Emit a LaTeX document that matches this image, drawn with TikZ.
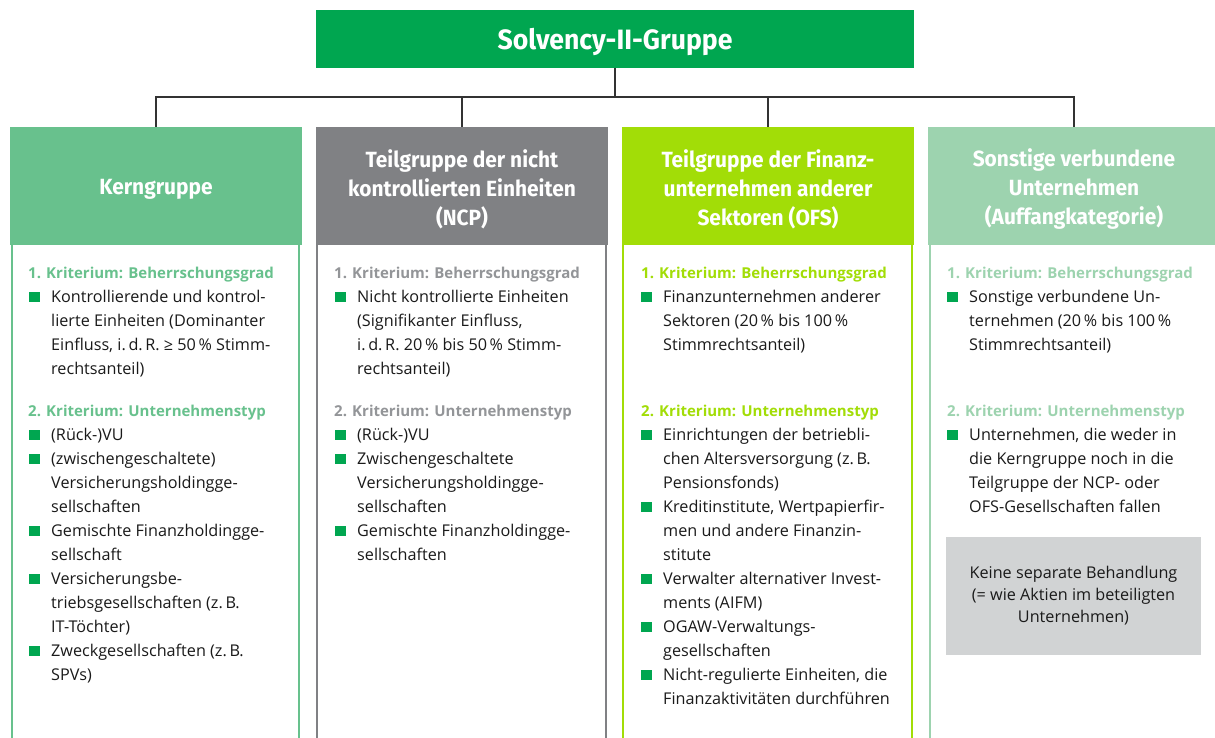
\documentclass[tikz,border=0pt]{standalone}
\usepackage{fontspec}
\setmainfont{Open Sans}
\newfontfamily\hdfont{Fira Sans}[FakeStretch=0.95]
\definecolor{titlegreen}{HTML}{00A650}
\definecolor{cA}{HTML}{68C18D}
\definecolor{cB}{HTML}{808184}
\definecolor{cBt}{HTML}{939598}
\definecolor{cC}{HTML}{A2DD07}
\definecolor{cD}{HTML}{9DD3AF}
\definecolor{boxgray}{HTML}{D1D3D4}
\definecolor{txt}{HTML}{1A1A1A}
\definecolor{conncol}{HTML}{333333}
\tikzset{
  titlebox/.style={fill=titlegreen, minimum width=598, minimum height=58, inner sep=0},
  titletxt/.style={text=white, inner sep=0, font=\hdfont\bfseries\fontsize{28}{32}\selectfont},
  headbox/.style={fill=#1, minimum width=292, minimum height=118, inner sep=0},
  headtxt/.style={text=white, inner sep=0, align=center, font=\hdfont\bfseries\fontsize{22}{29}\selectfont},
  bodybox/.style={draw=#1, line width=2pt, fill=white},
  crit/.style={text=#1, inner sep=0, anchor=base west, font=\bfseries\fontsize{15}{24}\selectfont},
  itemtxt/.style={text=txt, inner sep=0, anchor=north west, align=left, font=\fontsize{16.2}{24}\selectfont},
  bul/.style={fill=titlegreen, minimum width=11, minimum height=10, inner sep=0},
  graybox/.style={fill=boxgray, text=txt, minimum width=255, minimum height=118, inner sep=0, align=center,
    font=\fontsize{16.2}{22}\selectfont},
  conn/.style={draw=conncol, line width=1.5pt}
}
\newcommand\myitem[4]{%
  \node[bul] (#1b) at (#2+24, #3-5.25) {};
  \node[itemtxt] (#1) at (#2+41, #3-16.8) {\strut #4};
}
\begin{document}
\begin{tikzpicture}[x=1pt, y=-1pt]
\useasboundingbox (0,0) rectangle (1215,737);
\clip (0,0) rectangle (1215,737);
% bodies
\draw[bodybox=cA] (11.5,240) rectangle (299,760);
\draw[bodybox=cB] (317,240) rectangle (605.5,760);
\draw[bodybox=cC] (623,240) rectangle (912,760);
\draw[bodybox=cD] (929.5,240) rectangle (1218,760);
% title and headers
\node[titlebox] (title) at (615,38.5) {};
\node[titletxt] (titlet) at (615,41.5) {Solvency-II-Gruppe};
\node[headbox=cA] (h1) at (156,186) {};
\node[headbox=cB] (h2) at (462,186) {};
\node[headbox=cC] (h3) at (768,186) {};
\node[headbox=cD] (h4) at (1074,186) {};
\node[headtxt] (h1t) at (156,189) {Kerngruppe};
\node[headtxt] (h2t) at (462,189) {Teilgruppe der nicht\\kontrollierten Einheiten\\(NCP)};
\node[headtxt] (h3t) at (768,189) {Teilgruppe der Finanz-\\unternehmen anderer\\Sektoren (OFS)};
\node[headtxt] (h4t) at (1074,189) {Sonstige verbundene\\Unternehmen\\(Auffangkategorie)};
% connectors
\coordinate (bus) at (615,97);
\draw[conn] (title.south) -- (bus);
\draw[conn] (h1.north) -- (h1.north |- bus) -- (h4.north |- bus) -- (h4.north);
\draw[conn] (h2.north) -- (h2.north |- bus);
\draw[conn] (h3.north) -- (h3.north |- bus);
% column 1
\node[crit=cA] (k1a) at (28,278) {1. Kriterium: Beherrschungsgrad};
\myitem{a1}{10}{302}{Kontrollierende und kontrol-\\lierte Einheiten (Dominanter\\Einfluss, i.\,d.\,R. ≥ 50\,\% Stimm-\\rechtsanteil)}
\node[crit=cA] (k1b) at (28,416.5) {2. Kriterium: Unternehmenstyp};
\myitem{a2}{10}{440.5}{(Rück-)VU}
\myitem{a3}{10}{464.5}{(zwischengeschaltete)\\Versicherungsholdingge-\\sellschaften}
\myitem{a4}{10}{536.5}{Gemischte Finanzholdingge-\\sellschaft}
\myitem{a5}{10}{584.5}{Versicherungsbe-\\triebsgesellschaften (z.\,B.\\IT-Töchter)}
\myitem{a6}{10}{656.5}{Zweckgesellschaften (z.\,B.\\SPVs)}
% column 2
\node[crit=cBt] (k2a) at (334,278) {1. Kriterium: Beherrschungsgrad};
\myitem{b1}{316}{302}{Nicht kontrollierte Einheiten\\(Signifikanter Einfluss,\\i.\,d.\,R. 20\,\% bis 50\,\% Stimm-\\rechtsanteil)}
\node[crit=cBt] (k2b) at (334,416.5) {2. Kriterium: Unternehmenstyp};
\myitem{b2}{316}{440.5}{(Rück-)VU}
\myitem{b3}{316}{464.5}{Zwischengeschaltete\\Versicherungsholdingge-\\sellschaften}
\myitem{b4}{316}{536.5}{Gemischte Finanzholdingge-\\sellschaften}
% column 3
\node[crit=cC] (k3a) at (641,278) {1. Kriterium: Beherrschungsgrad};
\myitem{c1}{622}{302}{Finanzunternehmen anderer\\Sektoren (20\,\% bis 100\,\%\\Stimmrechtsanteil)}
\node[crit=cC] (k3b) at (641,416.5) {2. Kriterium: Unternehmenstyp};
\myitem{c2}{622}{440.5}{Einrichtungen der betriebli-\\chen Altersversorgung (z.\,B.\\Pensionsfonds)}
\myitem{c3}{622}{512.5}{Kreditinstitute, Wertpapierfir-\\men und andere Finanzin-\\stitute}
\myitem{c4}{622}{584.5}{Verwalter alternativer Invest-\\ments (AIFM)}
\myitem{c5}{622}{632.5}{OGAW-Verwaltungs-\\gesellschaften}
\myitem{c6}{622}{680.5}{Nicht-regulierte Einheiten, die\\Finanzaktivitäten durchführen}
% column 4
\node[crit=cD] (k4a) at (947,278) {1. Kriterium: Beherrschungsgrad};
\myitem{d1}{928}{302}{Sonstige verbundene Un-\\ternehmen (20\,\% bis 100\,\%\\Stimmrechtsanteil)}
\node[crit=cD] (k4b) at (947,416.5) {2. Kriterium: Unternehmenstyp};
\myitem{d2}{928}{440.5}{Unternehmen, die weder in\\die Kerngruppe noch in die\\Teilgruppe der NCP- oder\\OFS-Gesellschaften fallen}
\node[graybox] (keine) at (1073.5,596) {Keine separate Behandlung\\(= wie Aktien im beteiligten\\Unternehmen)};
\end{tikzpicture}
\end{document}
